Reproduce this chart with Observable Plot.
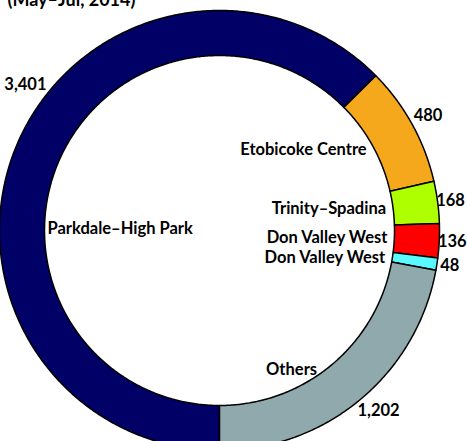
<!DOCTYPE html>
<html>
<head>
<meta charset="utf-8">
<script src="https://cdn.jsdelivr.net/npm/d3@7"></script>
<script src="https://cdn.jsdelivr.net/npm/@observablehq/plot@0.6"></script>
<style>
  html, body { margin: 0; padding: 0; background: #fff; }
  #chart { width: 467px; height: 441px; overflow: hidden; }
  svg { font-family: Lato, "Open Sans", sans-serif; }
</style>
</head>
<body>
<div id="chart"></div>
<script>
// ---- data ----
const title = "(May–Jul, 2014)";
const ridings = ["Parkdale–High Park", "Etobicoke Centre", "Trinity–Spadina", "Don Valley West", "Don Valley West", "Others"];
const counts = [3401, 480, 168, 136, 48, 1202];
const colors = ["#000066", "#F5A81C", "#AEFF00", "#FF0000", "#58FAFF", "#8FA9AD"];

// ---- layout ----
const R_OUT = 220, R_IN = 175;       // ring radii in px-units
const START = 180;                   // degrees clockwise from top
const R_VALUE = 233, R_NAME = 168;
const FONT = 16.5;
const overrides = {0: {valueAngle: 307, valueR: 243, nameAngle: 270.7, nameR: 172, nameAnchor: "start"},
                   1: {valueR: 238},
                   3: {nameAngle: 92.3},
                   4: {nameAngle: 99.4},
                   5: {nameAngle: 145, nameR: 170, valueAngle: 138.5, valueR: 240}};

const total = d3.sum(counts);
const ids = ridings.map((_, i) => "s" + i);
const rad = a => a * Math.PI / 180;
const polar = (r, a) => ({x: r * Math.sin(rad(a)), y: r * Math.cos(rad(a))});

let acc = START;
const slices = counts.map((v, i) => {
  const a0 = acc, a1 = acc + v / total * 360;
  acc = a1;
  return {id: ids[i], name: ridings[i], value: v, a0, a1, mid: (a0 + a1) / 2};
});

const ringPts = [];
for (const s of slices) {
  const n = Math.max(4, Math.ceil((s.a1 - s.a0) / 0.5));
  for (let k = 0; k <= n; k++) ringPts.push({id: s.id, ...polar(R_OUT, s.a0 + (s.a1 - s.a0) * k / n)});
  for (let k = n; k >= 0; k--) ringPts.push({id: s.id, ...polar(R_IN, s.a0 + (s.a1 - s.a0) * k / n)});
}

const valueLabels = slices.map((s, i) => {
  const o = overrides[i] || {};
  return {text: d3.format(",")(s.value), ...polar(o.valueR ?? R_VALUE, o.valueAngle ?? s.mid)};
});
const nameLabels = slices.map((s, i) => {
  const o = overrides[i] || {};
  return {text: s.name, anchor: o.nameAnchor ?? "end", ...polar(o.nameR ?? R_NAME, o.nameAngle ?? s.mid)};
});

const plot = Plot.plot({
  width: 467,
  height: 441,
  margin: 0,
  x: {domain: [-219, 248], axis: null},
  y: {domain: [-211, 230], axis: null},
  color: {domain: ids, range: colors},
  marks: [
    Plot.line(ringPts, {x: "x", y: "y", z: "id", fill: "id", stroke: "#000", strokeWidth: 1.5, curve: "linear-closed"}),
    Plot.text(valueLabels, {x: "x", y: "y", text: "text", fontSize: FONT, fontWeight: "bold", fill: "#000", textAnchor: "middle"}),
    Plot.text(nameLabels.filter(d => d.anchor === "end"), {x: "x", y: "y", text: "text", fontSize: FONT, fontWeight: "bold", fill: "#000", textAnchor: "end"}),
    Plot.text(nameLabels.filter(d => d.anchor === "start"), {x: "x", y: "y", text: "text", fontSize: FONT, fontWeight: "bold", fill: "#000", textAnchor: "start"}),
    Plot.text([title], {frameAnchor: "top-left", dx: 7, dy: -7, fontSize: 18, fontWeight: "bold", fill: "#000", textAnchor: "start"})
  ]
});
document.getElementById("chart").appendChild(plot);
</script>
</body>
</html>
